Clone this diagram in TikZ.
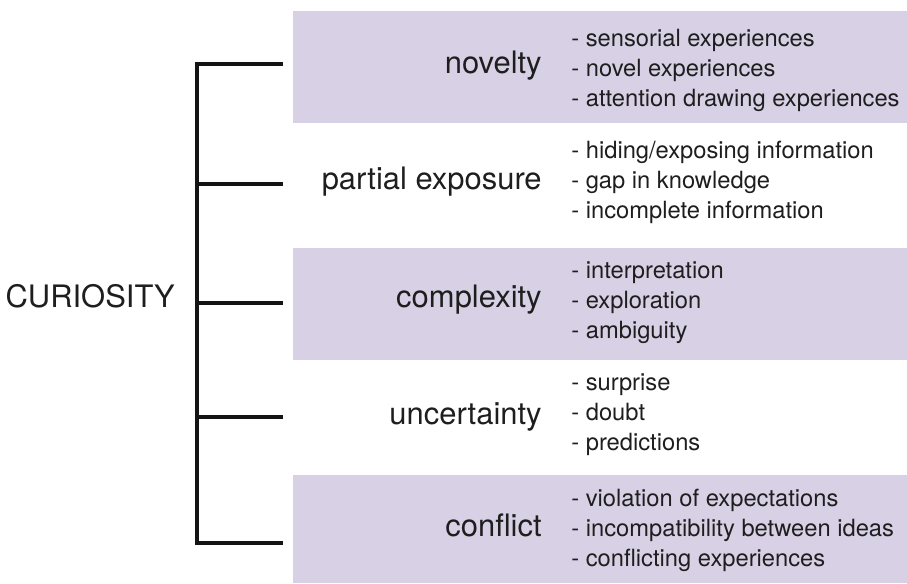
\documentclass[tikz,border=0pt]{standalone}
\usepackage{fontspec}
\setmainfont{TeX Gyre Heros}
\usetikzlibrary{positioning}
\definecolor{curband}{HTML}{D8D0E5}
\definecolor{curtext}{HTML}{1E1E1E}

\begin{document}
\begin{tikzpicture}[
  cat/.style={anchor=mid east, inner sep=0pt, text=curtext,
              font=\fontsize{17.6}{21}\selectfont},
  items/.style={anchor=west, inner sep=0pt, align=left, text=curtext,
                font=\fontsize{13.5}{17.1}\selectfont},
  band/.style={fill=curband, draw=none},
  brace/.style={line width=2pt, draw=black!92},
]
\useasboundingbox (0,0) rectangle (18.14,-11.66);
% shaded rows
\fill[band] (5.86,-0.22) rectangle (18.14,-2.46);
\fill[band] (5.86,-4.96) rectangle (18.14,-7.20);
\fill[band] (5.86,-9.50) rectangle (18.14,-11.66);
% root and bracket
\node[cat] (root) at (3.50,-6.06) {CURIOSITY};
\foreach \n/\y in {1/-1.28,2/-3.68,3/-6.06,4/-8.34,5/-10.86}{
  \coordinate (s\n) at (3.94,\y);
  \coordinate (t\n) at (5.66,\y);
}
\draw[brace] (t1) -- (s1) -- (s5) -- (t5);
\foreach \n in {2,3,4} \draw[brace] (s\n) -- (t\n);
% categories
\node[cat] (nov) at (10.84,-1.38) {novelty};
\node[cat] (part) at (10.84,-3.70) {partial exposure};
\node[cat] (comp) at (10.84,-6.06) {complexity};
\node[cat] (unc) at (10.84,-8.40) {uncertainty};
\node[cat] (conf) at (10.84,-10.64) {conflict};
% examples
\node[items] (nov-l) at (11.42,-1.40)
  {- sensorial experiences\\- novel experiences\\- attention drawing experiences};
\node[items] (part-l) at (11.42,-3.64)
  {- hiding/exposing information\\- gap in knowledge\\- incomplete information};
\node[items] (comp-l) at (11.42,-6.06)
  {- interpretation\\- exploration\\- ambiguity};
\node[items] (unc-l) at (11.42,-8.30)
  {- surprise\\- doubt\\- predictions};
\node[items] (conf-l) at (11.42,-10.60)
  {- violation of expectations\\- incompatibility between ideas\\- conflicting experiences};
\end{tikzpicture}
\end{document}
